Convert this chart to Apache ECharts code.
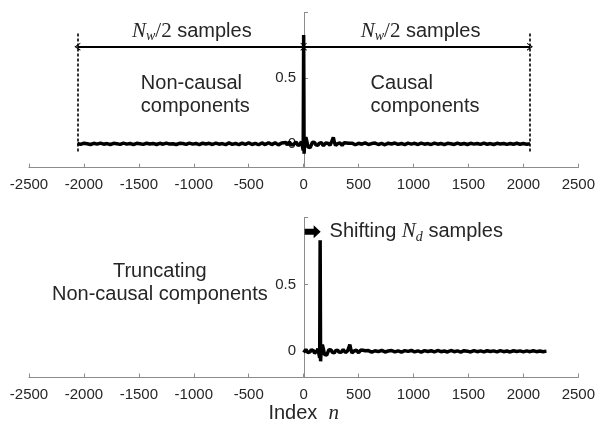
<!DOCTYPE html>
<html><head><meta charset="utf-8">
<script src="https://cdn.jsdelivr.net/npm/echarts@6/dist/echarts.min.js"></script>
<style>html,body{margin:0;padding:0;background:#fff}#c{width:598px;height:434px}</style>
</head><body><div id="c"></div>
<script>
// ---------- data ----------
const xTickLabels = [-2500,-2000,-1500,-1000,-500,0,500,1000,1500,2000,2500];
const yTickValues = [0, 0.5, 1];
const yLabelValues = [0, 0.5];
const halfWindow = 2060;      // N_w/2 samples
const shiftNd = 150;          // N_d samples

// non-causal tail: index -2060 .. -230, every 30 samples
const nonCausalStart = -2060, nonCausalStep = 30;
const nonCausalAmp = [0.003,-0.004,0.005,0.001,-0.005,0.004,-0.002,0.006,-0.003,0.002,
-0.005,0.004,0.001,-0.004,0.005,-0.002,0.003,-0.006,0.004,0.001,
-0.004,0.005,-0.001,0.003,-0.005,0.004,-0.003,0.006,-0.002,0.001,
-0.005,0.004,0.002,-0.004,0.006,-0.002,0.003,-0.006,0.005,-0.001,
0.004,-0.005,0.006,-0.003,0.002,-0.006,0.007,-0.004,0.003,-0.006,
0.006,-0.004,0.008,-0.005,0.004,-0.007,0.007,-0.006,0.009,-0.006,
0.008,-0.008];

// pre-peak part: index -200 .. -10, every 10 samples
const preStart = -200, preStep = 10;
const preAmp = [0.006,-0.008,0.009,-0.006,0.010,-0.009,0.005,0.013,0.004,-0.010,
-0.013,-0.003,0.012,0.015,0.003,-0.014,-0.017,0.002,0.018,0.008];

// main peak
const peakIdx = [-4, 0, 4];
const peakAmp = [-0.05, 0.83, -0.075];

// post-peak part: index 10 .. 410, every 10 samples
const postStart = 10, postStep = 10;
const postAmp = [0.02,0.05,0.015,-0.025,-0.035,-0.028,-0.008,0.012,0.02,
0.01,-0.008,-0.017,-0.012,0.004,0.014,0.009,-0.006,-0.014,-0.008,
0.006,0.012,0.005,-0.009,-0.011,0.003,0.025,0.05,0.012,-0.012,
-0.014,0.002,0.011,0.008,-0.006,-0.011,0.002,0.009,-0.005,0.007,
-0.007,0.004];

// causal tail: index 440 .. 2060, every 30 samples
const causalStart = 440, causalStep = 30;
const causalAmp = [0.005,-0.007,0.004,-0.003,0.007,-0.005,0.002,0.006,-0.005,0.003,
-0.007,0.005,-0.001,0.006,-0.004,0.003,-0.006,0.005,-0.002,0.004,
-0.005,0.006,-0.003,0.002,-0.005,0.006,-0.003,0.003,-0.006,0.004,
0.001,-0.005,0.005,-0.003,0.003,-0.005,0.004,-0.002,0.003,-0.004,
0.005,-0.003,0.002,-0.005,0.004,-0.001,0.003,-0.004,0.003,-0.003,
0.004,-0.003,0.002,-0.003,0.001];

// ---------- build series ----------
function seg(start, step, arr){ return arr.map((v,i)=>[start+i*step, v]); }
const fullResp = [].concat(
  seg(nonCausalStart, nonCausalStep, nonCausalAmp),
  seg(preStart, preStep, preAmp),
  peakIdx.map((n,i)=>[n, peakAmp[i]]),
  seg(postStart, postStep, postAmp),
  seg(causalStart, causalStep, causalAmp));
const shiftedResp = fullResp.filter(p => p[0] >= -shiftNd).map(p => [p[0]+shiftNd, p[1]]);

const TXT = '#262626', AX = '#8c8c8c';
const SANS = '"Liberation Sans", Arial, sans-serif';
const SERIF = '"Liberation Serif", "DejaVu Serif", serif';
const chevron = 'path://M0,10 L5,0 L10,10 L8.6,10 L5,3.2 L1.4,10 Z';
const blockArrow = 'path://M0,3.5 L9,3.5 L9,0 L16,6.5 L9,13 L9,9.5 L0,9.5 Z';

const rich = {
  m:  {fontFamily: SERIF, fontStyle: 'italic', fontSize: 21, color: TXT},
  sub:{fontFamily: SERIF, fontStyle: 'italic', fontSize: 14, color: TXT, padding:[10,0,0,0]},
  r:  {fontFamily: SERIF, fontSize: 21, color: TXT},
  t:  {fontFamily: SANS, fontSize: 20, color: TXT}
};

const GRID_LEFT = 29, GRID_RIGHT = 19, PLOT_W = 598 - GRID_LEFT - GRID_RIGHT;

function xAx(gridIndex, extra){
  return Object.assign({
    type:'value', gridIndex, min:-2500, max:2500, interval:500,
    axisLine:{onZero:false, lineStyle:{color:AX, width:1}},
    axisTick:{inside:true, length:4, lineStyle:{color:AX}},
    axisLabel:{color:TXT, fontSize:15, fontFamily:SANS, margin:10, formatter:v=>String(v)},
    splitLine:{show:false}
  }, extra||{});
}
function yAx(gridIndex, min){
  return {
    type:'value', gridIndex, min, max:1, position:'left',
    offset: -PLOT_W * (0 - (-2500)) / 5000,   // place the y axis at index 0
    axisLine:{show:true, onZero:false, lineStyle:{color:AX, width:1}},
    axisTick:{show:true, inside:true, length:4, customValues:yTickValues, lineStyle:{color:AX}},
    axisLabel:{color:TXT, fontSize:15, fontFamily:SANS, margin:8, customValues:yLabelValues, formatter:v=>String(v)},
    splitLine:{show:false}
  };
}
function txtPoint(coord, formatter, align){
  return {coord, symbol:'rect', symbolSize:0,
    label:{show:true, position:[0,0], align:align||'center', verticalAlign:'middle',
      formatter, rich, color:TXT, fontFamily:SANS, fontSize:20, lineHeight:23}};
}

const option = {
  animation:false,
  backgroundColor:'#fff',
  grid:[
    {left:GRID_LEFT, right:GRID_RIGHT, top:12.7, height:155},
    {left:GRID_LEFT, right:GRID_RIGHT, top:217.5, height:160}
  ],
  xAxis:[
    xAx(0),
    xAx(1, {name:'Index  {i|n}', nameLocation:'middle', nameGap:24,
      nameTextStyle:{color:TXT, fontSize:20, fontFamily:SANS,
        rich:{i:{fontFamily:SERIF, fontStyle:'italic', fontSize:21, color:TXT}}}})
  ],
  yAxis:[ yAx(0, -0.182), yAx(1, -0.196) ],
  series:[
    {type:'line', xAxisIndex:0, yAxisIndex:0, data:fullResp, showSymbol:false,
     lineStyle:{color:'#000', width:3.5}, z:3,
     markLine:{silent:true, animation:false, label:{show:false},
       lineStyle:{color:'#000'},
       data:[
         [{coord:[-halfWindow,-0.059], symbol:'none', lineStyle:{type:[3,2], width:1.6, color:'#000'}},
          {coord:[-halfWindow,0.848], symbol:'none'}],
         [{coord:[halfWindow,-0.059], symbol:'none', lineStyle:{type:[3,2], width:1.6, color:'#000'}},
          {coord:[halfWindow,0.848], symbol:'none'}],
         [{coord:[-halfWindow,0.741], symbol:chevron, symbolSize:[8,6], lineStyle:{type:'solid', width:2, color:'#000'}},
          {coord:[0,0.741], symbol:chevron, symbolSize:[8,6]}],
         [{coord:[0,0.741], symbol:chevron, symbolSize:[8,6], lineStyle:{type:'solid', width:2, color:'#000'}},
          {coord:[halfWindow,0.741], symbol:chevron, symbolSize:[8,6]}]
       ]},
     markPoint:{silent:true, animation:false, data:[
       txtPoint([-1018,0.855], '{m|N}{sub|w}{r|/2}{t| samples}'),
       txtPoint([1064,0.855], '{m|N}{sub|w}{r|/2}{t| samples}'),
       txtPoint([-1482,0.375], 'Non-causal\ncomponents', 'left'),
       txtPoint([609,0.375], 'Causal\ncomponents', 'left')
     ]}
    },
    {type:'line', xAxisIndex:1, yAxisIndex:1, data:shiftedResp, showSymbol:false,
     lineStyle:{color:'#000', width:3.5}, z:3,
     markPoint:{silent:true, animation:false, data:[
       {coord:[82,0.893], symbol:blockArrow, symbolSize:[16,13], itemStyle:{color:'#000'}, label:{show:false}},
       txtPoint([236,0.893], '{t|Shifting }{m|N}{sub|d}{t| samples}', 'left'),
       txtPoint([-1309,0.51], 'Truncating\nNon-causal components')
     ]}
    }
  ]
};
const chart = echarts.init(document.getElementById('c'), null, {renderer:'canvas'});
chart.setOption(option);
</script>
</body></html>
